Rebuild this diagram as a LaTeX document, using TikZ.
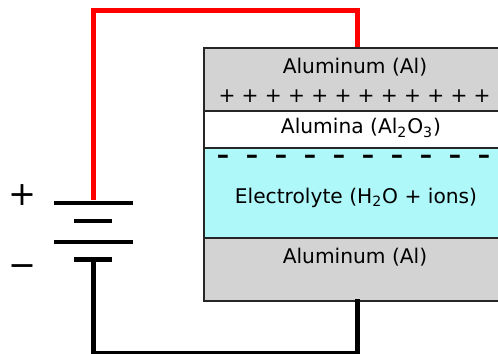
\documentclass[tikz,border=0pt]{standalone}
\usepackage{fontspec}
\setmainfont{DejaVu Sans}
\usepackage{amsmath}
\definecolor{metalgray}{HTML}{D3D3D3}
\definecolor{electrolytecyan}{HTML}{AFF8FA}
\tikzset{
  layer/.style={draw=black!85, line width=0.75pt},
  wire/.style={line width=2.8pt, line join=miter},
  longplate/.style={fill=black, inner sep=0pt, minimum width=45pt, minimum height=2.5pt},
  shortplate/.style={fill=black, inner sep=0pt, minimum width=21.5pt, minimum height=2.5pt},
  label/.style={font=\fontsize{11.5}{13}\selectfont, inner sep=0pt},
  polarity/.style={font=\fontsize{19}{22}\selectfont, inner sep=0pt},
}
\begin{document}
\begin{tikzpicture}[x=0.02cm, y=-0.02cm]
	\useasboundingbox (0,0) rectangle (498,354);

	% 1. layers of the cell
	\draw[layer, fill=metalgray] (204,48) rectangle (502,111);
	\draw[layer, fill=white] (204,111) rectangle (502,148);
	\draw[layer, fill=electrolytecyan] (204,148) rectangle (502,238);
	\draw[layer, fill=metalgray] (204,238) rectangle (502,301);

	% 2. battery plates
	\node[longplate] (plateA) at (93.25,203) {};
	\node[shortplate] (plateB) at (93.25,221) {};
	\node[longplate] (plateC) at (93.25,242) {};
	\node[shortplate] (plateD) at (93.25,259.5) {};

	% 3. wires
	\coordinate (topContact) at (357.5,47);
	\coordinate (bottomContact) at (357.5,299.5);
	\draw[wire, red] (plateA.north) |- (topContact |- 0,10.5) -- (topContact);
	\draw[wire, black] (plateD.south) |- (bottomContact |- 0,353.5) -- (bottomContact);

	% 4. labels
	\node[label] (topMetal) at (355,67) {Aluminum (Al)};
	\node[label] (oxide) at (361,128) {Alumina (Al$_{\text{2}}$O$_{\text{3}}$)};
	\node[label] (electrolyte) at (356,198) {Electrolyte (H$_{\text{2}}$O + ions)};
	\node[label] (bottomMetal) at (355,257) {Aluminum (Al)};

	% 5. charges
	\foreach \i in {0,...,11}
		\node[label] (plus\i) at (227+23.2*\i,96) {+};
	\foreach \i in {0,...,9}
		\node[inner sep=0pt, font=\bfseries\fontsize{14}{14}\selectfont] (minus\i) at (223+29*\i,159) {–};

	% 6. battery polarity
	\node[polarity] (plusSign) at (22,195) {+};
	\node[polarity] (minusSign) at (22,271) {−};
\end{tikzpicture}
\end{document}
